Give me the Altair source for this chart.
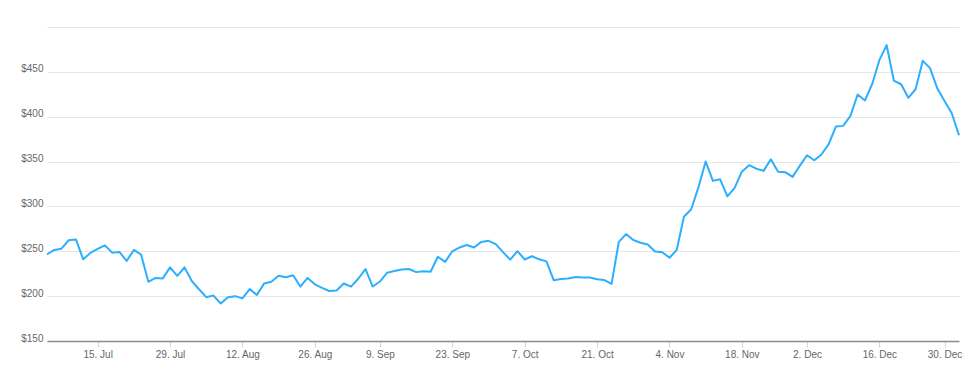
import altair as alt
import pandas as pd
from datetime import date

dates = [
    # Jul 2024
    "2024-07-03", "2024-07-05", "2024-07-08", "2024-07-09", "2024-07-10", "2024-07-11", "2024-07-12",
    "2024-07-15", "2024-07-16", "2024-07-17", "2024-07-18", "2024-07-19", "2024-07-22", "2024-07-23",
    "2024-07-24", "2024-07-25", "2024-07-26", "2024-07-29", "2024-07-30", "2024-07-31",
    # Aug
    "2024-08-01", "2024-08-02", "2024-08-05", "2024-08-06", "2024-08-07", "2024-08-08", "2024-08-09",
    "2024-08-12", "2024-08-13", "2024-08-14", "2024-08-15", "2024-08-16", "2024-08-19", "2024-08-20",
    "2024-08-21", "2024-08-22", "2024-08-23", "2024-08-26", "2024-08-27", "2024-08-28", "2024-08-29",
    "2024-08-30",
    # Sep
    "2024-09-03", "2024-09-04", "2024-09-05", "2024-09-06", "2024-09-09", "2024-09-10", "2024-09-11",
    "2024-09-12", "2024-09-13", "2024-09-16", "2024-09-17", "2024-09-18", "2024-09-19", "2024-09-20",
    "2024-09-23", "2024-09-24", "2024-09-25", "2024-09-26", "2024-09-27", "2024-09-30",
    # Oct
    "2024-10-01", "2024-10-02", "2024-10-03", "2024-10-04", "2024-10-07", "2024-10-08", "2024-10-09",
    "2024-10-10", "2024-10-11", "2024-10-14", "2024-10-15", "2024-10-16", "2024-10-17", "2024-10-18",
    "2024-10-21", "2024-10-22", "2024-10-23", "2024-10-24", "2024-10-25", "2024-10-28", "2024-10-29",
    "2024-10-30", "2024-10-31",
    # Nov
    "2024-11-01", "2024-11-04", "2024-11-05", "2024-11-06", "2024-11-07", "2024-11-08", "2024-11-11",
    "2024-11-12", "2024-11-13", "2024-11-14", "2024-11-15", "2024-11-18", "2024-11-19", "2024-11-20",
    "2024-11-21", "2024-11-22", "2024-11-25", "2024-11-26", "2024-11-27", "2024-11-29",
    # Dec
    "2024-12-02", "2024-12-03", "2024-12-04", "2024-12-05", "2024-12-06", "2024-12-09", "2024-12-10",
    "2024-12-11", "2024-12-12", "2024-12-13", "2024-12-16", "2024-12-17", "2024-12-18", "2024-12-19",
    "2024-12-20", "2024-12-23", "2024-12-24", "2024-12-26", "2024-12-27", "2024-12-30", "2024-12-31",
    # Jan 2025
    "2025-01-02",
]

prices = [
    246.39, 251.52, 252.94, 262.33, 263.26, 241.03, 248.23, 252.64, 256.56, 248.50,
    249.23, 239.20, 251.51, 246.38, 215.99, 220.25, 219.80, 232.10, 222.62, 232.07,
    216.86, 207.67, 198.88, 200.64, 191.76, 198.84, 200.00, 197.49, 207.83, 201.38,
    214.14, 216.12, 222.72, 221.10, 223.27, 210.66, 220.32, 213.21, 209.21, 205.75,
    206.28, 214.11,
    210.60, 219.41, 230.17, 210.73, 216.27, 226.17, 228.13, 229.81, 230.29, 226.78,
    227.87, 227.20, 243.92, 238.25, 250.00, 254.27, 257.02, 254.22, 260.46, 261.63,
    258.02, 249.02, 240.66, 250.08, 240.83, 244.50, 241.05, 238.77, 217.80, 219.16,
    219.57, 221.33, 220.89, 220.70, 218.85, 217.97, 213.65, 260.48, 269.19, 262.51,
    259.52, 257.55, 249.85,
    248.98, 242.84, 251.44, 288.53, 296.91, 321.22, 350.00, 328.49, 330.24, 311.18,
    320.72, 338.74, 346.00, 342.03, 339.64, 352.56, 338.59, 338.23, 332.89, 345.16,
    357.09, 351.42, 357.93, 369.49, 389.22, 389.79, 400.99, 424.77, 418.10, 436.23,
    463.02, 479.86, 440.13, 436.17, 421.06, 430.60, 462.28, 454.13, 431.66, 417.41,
    403.84,
    379.28,
]

tick_labels = ["15. Jul", "29. Jul", "12. Aug", "26. Aug", "9. Sep", "23. Sep", "7. Oct",
               "21. Oct", "4. Nov", "18. Nov", "2. Dec", "16. Dec", "30. Dec"]

y_ticks = [150, 200, 250, 300, 350, 400, 450, 500]

labels = []
for d in dates:
    dt = date.fromisoformat(d)
    labels.append(f"{dt.day}. {dt.strftime('%b')}")

df = pd.DataFrame({"label": labels, "price": prices})

FONT = "Liberation Sans"

chart = alt.Chart(df).mark_line(color="#2caffe", strokeWidth=2, strokeJoin="round").encode(
    x=alt.X(
        "label:O",
        sort=labels,
        scale=alt.Scale(type="point", padding=0),
        axis=alt.Axis(
            values=tick_labels,
            labelAngle=0,
            grid=False,
            title=None,
            domainColor="#8c8c8c",
            domainWidth=1.5,
            tickColor="#ccd6eb",
            tickSize=6,
            tickWidth=1,
            labelColor="#666666",
            labelFont=FONT,
            labelFontSize=10,
            labelPadding=2,
            labelOverlap=False,
        ),
    ),
    y=alt.Y(
        "price:Q",
        scale=alt.Scale(domain=[150, 500], nice=False, zero=False),
        axis=alt.Axis(
            values=y_ticks,
            labelExpr="datum.value >= 500 ? '' : '$' + datum.value",
            grid=True,
            gridColor="#e6e6e6",
            gridWidth=1,
            domain=False,
            ticks=False,
            title=None,
            labelColor="#666666",
            labelFont=FONT,
            labelFontSize=10,
            labelPadding=4,
            labelOffset=-3,
        ),
    ),
).properties(
    width=912,
    height=314,
    autosize="none",
    padding={"left": 47, "top": 27, "right": 16, "bottom": 49},
    background="white",
).configure_view(stroke=None)

chart.save("out.html", embed_options={"renderer": "svg", "actions": False})
